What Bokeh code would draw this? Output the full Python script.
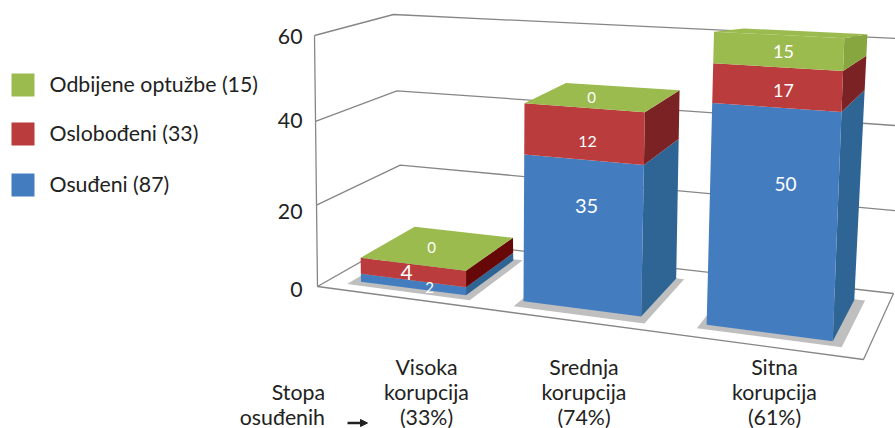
import numpy as np
from bokeh.plotting import figure
from bokeh.embed import file_html
from bokeh.resources import INLINE
from bokeh.models import Arrow, NormalHead
from bokeh.core.properties import value

# ---- data -------------------------------------------------------------
categories = ["Visoka\nkorupcija\n(33%)", "Srednja\nkorupcija\n(74%)", "Sitna\nkorupcija\n(61%)"]
series_names = ["Osuđeni (87)", "Oslobođeni (33)", "Odbijene optužbe (15)"]
osudjeni = [2, 35, 50]
oslobodjeni = [4, 12, 17]
odbijene = [0, 0, 15]
# heights as they are drawn in the picture (the third column is not drawn to its labels)
drawn_osudjeni = [2, 34.6, 49.3]
drawn_oslobodjeni = [4, 11.7, 8.5]
drawn_odbijene = [0, 0, 6.7]
# the same heights on the rear edge of each column
rear_osudjeni = [2, 34.6, 49.2]
rear_oslobodjeni = [4, 11.7, 7.7]
rear_odbijene = [0, 0, 4.8]
y_ticks = [0, 20, 40, 60]
y_tick_labels = ["0", "20", "40", "60"]

# ---- 3D box: (x 0..1, value 0..60, depth 0..1) -> page pixels ----------
FLOOR = {"fl": (317, 286), "fr": (863, 359), "br": (893, 293), "bl": (403, 237)}
ROOF = {"fl": (314, 35), "fr": (874, 68), "br": (908, 38.5), "bl": (393, 14)}

def plane(c, x, z):
    return tuple((1-x)*(1-z)*c["fl"][k] + x*(1-z)*c["fr"][k] + x*z*c["br"][k] + (1-x)*z*c["bl"][k]
                 for k in (0, 1))

def proj(x, v, z):
    s = v / 60
    t = s * (1 + 0.04 * (s - 1))
    a, c = plane(FLOOR, x, z), plane(ROOF, x, z)
    return a[0] + t*(c[0]-a[0]), a[1] + t*(c[1]-a[1])

def poly(pts):
    q = [proj(*t) for t in pts]
    return [a for a, _ in q], [c for _, c in q]

FONT = value("Lato")
INK = "#222222"
GRID = "#868686"
BLUE, RED, GREEN = "#447dbf", "#bb3c3d", "#9bbb4f"
bar_x = [(0.053, 0.249), (0.353, 0.573), (0.695, 0.931)]
bar_z = [(0.175, 0.83), (0.2, 0.85), (0.205, 0.84)]
shadow_x = [(0.038, 0.265), (0.347, 0.589), (0.683, 0.952)]
shadow_z = [(0.105, 0.85), (0.1, 0.85), (0.135, 0.85)]
side_colors = [
    {"b": "#2e6595", "r": "#660708", "g": "#88a63f"},
    {"b": "#2e6595", "r": "#7b2224", "g": "#88a63f"},
    {"b": "#2e6595", "r": "#7b2224", "g": "#88a63f"},
]

p = figure(width=895, height=428, x_range=(0, 895), y_range=(428, 0),
           output_backend="svg", toolbar_location=None, min_border=0,
           outline_line_color=None)
p.axis.visible = False
p.grid.visible = False

# walls and floor
for t in y_ticks:
    xs, ys = poly([(0, t, 0), (0, t, 1), (1, t, 1)])
    p.line(xs, ys, line_color=GRID, line_width=1.3)
xs, ys = poly([(0, 60, 0), (0, 0, 0), (1, 0, 0), (1, 0, 1)])
p.line(xs, ys, line_color=GRID, line_width=1.3)

# shadows
for (x0, x1), (z0, z1) in zip(shadow_x, shadow_z):
    xs, ys = poly([(x0, 0, z0), (x1, 0, z0), (x1, 0, z1), (x0, 0, z1)])
    p.patch(xs, ys, fill_color="#bfbfbf", line_color=None)

# bars
for i, (x0, x1) in enumerate(bar_x):
    z0, z1 = bar_z[i]
    bf = br = 0
    stack = [(drawn_osudjeni[i], rear_osudjeni[i], BLUE, "b"),
             (drawn_oslobodjeni[i], rear_oslobodjeni[i], RED, "r"),
             (drawn_odbijene[i], rear_odbijene[i], GREEN, "g")]
    for hf, hr, col, key in stack:
        if hf > 0:
            tf, tr = bf + hf, br + hr
            xs, ys = poly([(x1, bf, z0), (x1, br, z1), (x1, tr, z1), (x1, tf, z0)])
            p.patch(xs, ys, fill_color=side_colors[i][key], line_color=None)
            xs, ys = poly([(x0, bf, z0), (x1, bf, z0), (x1, tf, z0), (x0, tf, z0)])
            p.patch(xs, ys, fill_color=col, line_color=None)
            bf, br = tf, tr
    xs, ys = poly([(x0, bf, z0), (x1, bf, z0), (x1, br, z1), (x0, br, z1)])
    p.patch(xs, ys, fill_color=GREEN, line_color=None)

# data labels
label_xy = [[(429, 287), (406, 272), (431, 247)],
            [(586, 205), (587, 141), (591, 97)],
            [(785, 183), (783, 90), (783, 51)]]
label_sizes = [[15, 21, 15], [20, 16, 15], [19, 18, 18]]
for i in range(3):
    for j, lab in enumerate([osudjeni[i], oslobodjeni[i], odbijene[i]]):
        u, w = label_xy[i][j]
        p.text([u], [w], text=[str(lab)], text_color="#ffffff", text_font=FONT,
               text_font_size=f"{label_sizes[i][j]}px", text_align="center", text_baseline="middle")

# y tick labels
tick_px_y = [289, 211, 120, 36]
for lab, w in zip(y_tick_labels, tick_px_y):
    p.text([302], [w], text=[lab], text_color=INK, text_font=FONT, text_font_size="21.3px",
           text_align="right", text_baseline="middle")

# category labels
cat_x = [426, 583.5, 774]
line_y = [366, 391, 416]
for lab, u in zip(categories, cat_x):
    for line, w in zip(lab.split("\n"), line_y):
        p.text([u], [w], text=[line], text_color=INK, text_font=FONT, text_font_size="21.3px",
               text_align="center", text_baseline="middle")
for line, w in zip(["Stopa", "osuđenih"], line_y[1:]):
    p.text([324.5], [w], text=[line], text_color=INK, text_font=FONT, text_font_size="21.3px",
           text_align="right", text_baseline="middle")
p.add_layout(Arrow(end=NormalHead(size=7, fill_color="#222222", line_color="#222222"),
                   x_start=347, y_start=422.5, x_end=367, y_end=422.5,
                   line_color="#222222", line_width=2.6))

# legend
leg_y = [184.5, 133.5, 84.5]
leg_col = [BLUE, RED, GREEN]
for name, w, col in zip(series_names, leg_y, leg_col):
    p.quad(left=[11], right=[34], top=[w-11.5], bottom=[w+11.5], fill_color=col, line_color=None)
    p.text([49], [w-1.5], text=[name], text_color=INK, text_font=FONT, text_font_size="21.3px",
           text_align="left", text_baseline="middle")

open("out.html", "w").write(file_html(p, INLINE))
